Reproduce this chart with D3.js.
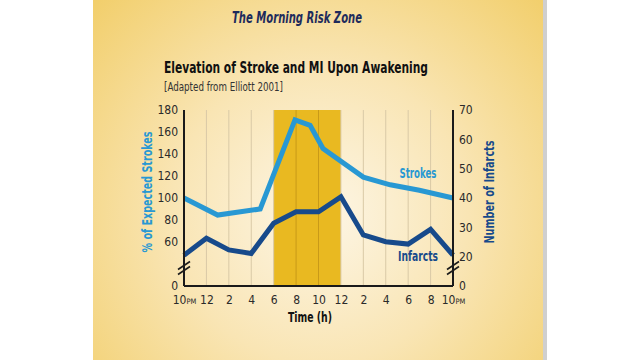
<!DOCTYPE html>
<html><head><meta charset="utf-8">
<script src="https://cdn.jsdelivr.net/npm/d3@7"></script>
<style>
html,body{margin:0;padding:0;background:#fff;}
svg{display:block;}
text{font-family:"DejaVu Sans Condensed","DejaVu Sans",sans-serif;font-stretch:condensed;}
</style></head>
<body>
<svg id="c" width="640" height="360"></svg>
<script>
// ---- data ----
const xTickHours = [0,2,4,6,8,10,12,14,16,18,20,22,24];
const xTickLabels = ["10PM","12","2","4","6","8","10","12","2","4","6","8","10PM"];
const leftTicks = [20,60,80,100,120,140,160,180];
const leftTickLabels = ["0","60","80","100","120","140","160","180"];
const rightTicks = [10,20,30,40,50,60,70];
const rightTickLabels = ["0","20","30","40","50","60","70"];
const strokeHours = [0,3,6.8,9.9,11.25,12.4,16,18.4,21,24];
const strokeValues = [100,84.5,90,171,166,145,119,112,107,100];
const infarctHours = [0,2,4,6,8,10,12,14,16,18,20,22,24];
const infarctValues = [20.5,26.3,22.3,21.1,31.4,35.3,35.3,40.4,27.4,25.1,24.3,29.3,20.5];
const morningZone = [8,14];

const svg = d3.select("#c");
const defs = svg.append("defs");
const rg = defs.append("radialGradient").attr("id","bg")
  .attr("gradientUnits","userSpaceOnUse").attr("cx",320).attr("cy",215).attr("r",330);
rg.append("stop").attr("offset",0).attr("stop-color","#fdf6e6");
rg.append("stop").attr("offset",0.45).attr("stop-color","#f9e5b4");
rg.append("stop").attr("offset",1).attr("stop-color","#f1cc63");

// card
svg.append("rect").attr("x",95).attr("y",-20).attr("width",452).attr("height",390).attr("rx",10)
  .attr("fill","#cfcfcf");
svg.append("rect").attr("x",93).attr("y",-20).attr("width",450).attr("height",390).attr("rx",10)
  .attr("fill","url(#bg)");

const x = d3.scaleLinear().domain([0,24]).range([184,453]);
const yL = d3.scaleLinear().domain([20,180]).range([286,110]);
const yR = d3.scaleLinear().domain([10,70]).range([286,110]);

// shaded zone
svg.append("rect").attr("x",x(morningZone[0])).attr("y",yL(180))
  .attr("width",x(morningZone[1])-x(morningZone[0])).attr("height",yL(20)-yL(180))
  .attr("fill","#e9b921");

// gridlines
svg.append("g").selectAll("line").data(xTickHours.filter(h=>h>0&&h<24)).join("line")
  .attr("x1",d=>x(d)).attr("x2",d=>x(d)).attr("y1",yL(180)).attr("y2",yL(20))
  .attr("stroke",d=>(d>morningZone[0]&&d<morningZone[1])?"#c99a18":"#d9c9a6").attr("stroke-width",1);

// lines
const lineS = d3.line().x((d,i)=>x(strokeHours[i])).y(d=>yL(d));
const lineI = d3.line().x((d,i)=>x(infarctHours[i])).y(d=>yR(d));
svg.append("path").datum(strokeValues).attr("d",lineS).attr("fill","none")
  .attr("stroke","#2898d3").attr("stroke-width",5).attr("stroke-linejoin","miter");
svg.append("path").datum(infarctValues).attr("d",lineI).attr("fill","none")
  .attr("stroke","#174a8b").attr("stroke-width",5).attr("stroke-linejoin","miter");

// axes
const axL = svg.append("g").attr("transform",`translate(${x(0)},0)`)
  .call(d3.axisLeft(yL).tickValues(leftTicks).tickSize(0).tickPadding(6)
    .tickFormat((d,i)=>leftTickLabels[i]));
const axR = svg.append("g").attr("transform",`translate(${x(24)},0)`)
  .call(d3.axisRight(yR).tickValues(rightTicks).tickSize(0).tickPadding(6)
    .tickFormat((d,i)=>rightTickLabels[i]));
const axB = svg.append("g").attr("transform",`translate(0,${yL(20)})`)
  .call(d3.axisBottom(x).tickValues(xTickHours).tickSize(0).tickPadding(9)
    .tickFormat((d,i)=>xTickLabels[i]));
[axL,axR,axB].forEach(a=>{
  a.select(".domain").attr("stroke","#1a1a1a").attr("stroke-width",2);
  a.selectAll("text").attr("font-size",12).attr("fill","#2a2a2a")
   .style("font-family",'"DejaVu Sans Condensed","DejaVu Sans",sans-serif')
   .style("font-stretch","condensed");
});
axB.select(".domain").attr("d",`M${x(0)},0H${x(24)}`);
axL.select(".domain").attr("d",`M0,${yL(180)}V${yL(20)}`);
axR.select(".domain").attr("d",`M0,${yR(70)}V${yR(10)}`);
// PM small caps
axB.selectAll(".tick text").each(function(d,i){
  const t = d3.select(this); const lab = xTickLabels[i];
  if(lab.endsWith("PM")){
    t.text(null);
    t.append("tspan").text(lab.slice(0,-2));
    t.append("tspan").attr("font-size",7.5).text(lab.slice(-2));
  }
});

// axis breaks
[x(0),x(24)].forEach(cx=>{
  [-2.5,2.5].forEach(o=>{
    svg.append("line").attr("x1",cx-6).attr("y1",268+o+4).attr("x2",cx+6).attr("y2",268+o-4)
      .attr("stroke","#1a1a1a").attr("stroke-width",1.6);
  });
});

// texts
svg.append("text").attr("x",297).attr("y",23).attr("text-anchor","middle")
  .attr("font-size",15.5).attr("font-weight","bold").attr("font-style","italic")
  .attr("fill","#1e2b5c").attr("textLength",130).attr("lengthAdjust","spacingAndGlyphs")
  .text("The Morning Risk Zone");
svg.append("text").attr("x",164).attr("y",73).attr("font-size",16).attr("font-weight","bold")
  .attr("fill","#111").attr("textLength",264).attr("lengthAdjust","spacingAndGlyphs")
  .text("Elevation of Stroke and MI Upon Awakening");
svg.append("text").attr("x",164).attr("y",91).attr("font-size",12)
  .attr("fill","#333").attr("textLength",119).attr("lengthAdjust","spacingAndGlyphs")
  .text("[Adapted from Elliott 2001]");
svg.append("text").attr("transform","translate(152,192) rotate(-90)").attr("text-anchor","middle")
  .attr("font-size",14).attr("font-weight","bold").attr("fill","#2898d3")
  .attr("textLength",121).attr("lengthAdjust","spacingAndGlyphs")
  .text("% of Expected Strokes");
svg.append("text").attr("transform","translate(494,192) rotate(-90)").attr("text-anchor","middle")
  .attr("font-size",14).attr("font-weight","bold").attr("fill","#174a8b")
  .attr("textLength",103).attr("lengthAdjust","spacingAndGlyphs")
  .text("Number of Infarcts");
svg.append("text").attr("x",310).attr("y",322).attr("text-anchor","middle")
  .attr("font-size",14.5).attr("font-weight","bold").attr("fill","#111")
  .attr("textLength",44).attr("lengthAdjust","spacingAndGlyphs").text("Time (h)");
svg.append("text").attr("x",418).attr("y",178).attr("text-anchor","middle")
  .attr("font-size",14).attr("font-weight","bold").attr("fill","#2898d3")
  .attr("textLength",37).attr("lengthAdjust","spacingAndGlyphs").text("Strokes");
svg.append("text").attr("x",418).attr("y",261).attr("text-anchor","middle")
  .attr("font-size",14).attr("font-weight","bold").attr("fill","#174a8b")
  .attr("textLength",40).attr("lengthAdjust","spacingAndGlyphs").text("Infarcts");
</script>
</body></html>
